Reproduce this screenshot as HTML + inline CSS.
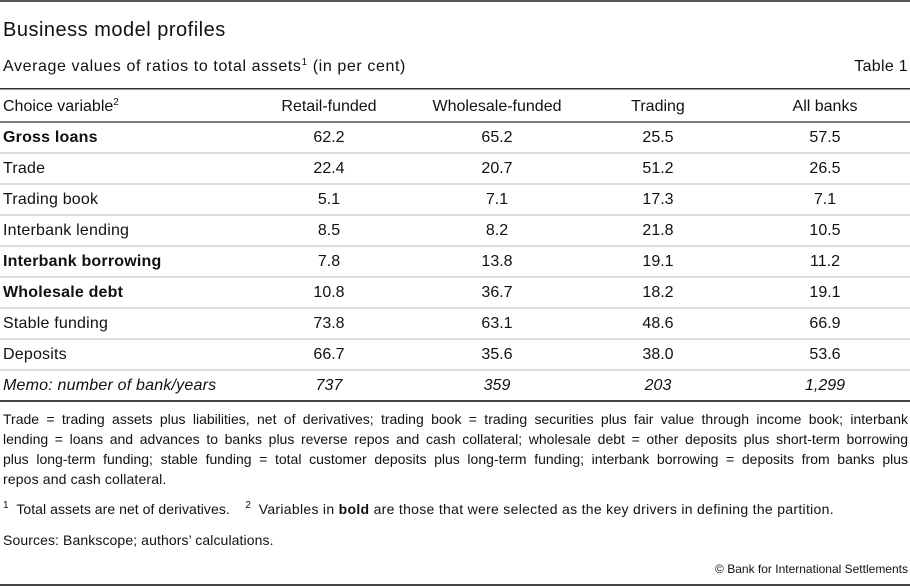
<!DOCTYPE html>
<html>
<head>
<meta charset="utf-8">
<style>
  html, body { margin:0; padding:0; background:#fff; }
  body { width:910px; height:586px; position:relative; overflow:hidden;
         font-family:"Liberation Sans", Arial, sans-serif; color:#111; }
  .abs { position:absolute; white-space:nowrap; }
  .rule { position:absolute; left:0; width:910px; }
  .row { position:absolute; left:0; width:910px; height:20px; line-height:20px; font-size:16px; }
  .row span { position:absolute; top:0; }
  .lab { left:3px; letter-spacing:0.2px; }
  .c1, .c2, .c3, .c4 { width:160px; text-align:center; }
  .c1 { left:249px; } .c2 { left:417px; } .c3 { left:578px; } .c4 { left:745px; }
  .b { font-weight:bold; }
  .i { font-style:italic; }
  sup { font-size:10px; line-height:0; vertical-align:6px; }
  .fn { position:absolute; left:3px; width:905px; font-size:14px; line-height:20px; }
  .fn div.j { text-align:justify; text-align-last:justify; white-space:nowrap; }
</style>
</head>
<body>
  <div class="rule" style="top:0;height:2px;background:#555;"></div>

  <div class="abs" style="left:3px;top:18px;font-size:20px;line-height:24px;letter-spacing:0.5px;">Business model profiles</div>
  <div class="abs" style="left:3px;top:57px;font-size:16px;line-height:20px;letter-spacing:0.6px;">Average values of ratios to total assets<sup>1</sup> (in per cent)</div>
  <div class="abs" style="right:2px;top:57px;font-size:16px;line-height:20px;letter-spacing:0.3px;">Table 1</div>

  <div class="rule" style="top:88px;height:1px;background:#333;"></div>
  <div class="rule" style="top:89px;height:1px;background:#999;"></div>

  <div class="row" style="top:97px;">
    <span class="lab" style="letter-spacing:0;">Choice variable<sup>2</sup></span>
    <span class="c1">Retail-funded</span>
    <span class="c2">Wholesale-funded</span>
    <span class="c3">Trading</span>
    <span class="c4">All banks</span>
  </div>

  <div class="rule" style="top:121px;height:2px;background:#7a7a7a;"></div>

  <div class="row" style="top:128px;"><span class="lab b">Gross loans</span><span class="c1">62.2</span><span class="c2">65.2</span><span class="c3">25.5</span><span class="c4">57.5</span></div>
  <div class="rule" style="top:152px;height:2px;background:#dcdcdc;"></div>
  <div class="row" style="top:159px;"><span class="lab">Trade</span><span class="c1">22.4</span><span class="c2">20.7</span><span class="c3">51.2</span><span class="c4">26.5</span></div>
  <div class="rule" style="top:183px;height:2px;background:#dcdcdc;"></div>
  <div class="row" style="top:190px;"><span class="lab">Trading book</span><span class="c1">5.1</span><span class="c2">7.1</span><span class="c3">17.3</span><span class="c4">7.1</span></div>
  <div class="rule" style="top:214px;height:2px;background:#dcdcdc;"></div>
  <div class="row" style="top:221px;"><span class="lab">Interbank lending</span><span class="c1">8.5</span><span class="c2">8.2</span><span class="c3">21.8</span><span class="c4">10.5</span></div>
  <div class="rule" style="top:245px;height:2px;background:#dcdcdc;"></div>
  <div class="row" style="top:252px;"><span class="lab b">Interbank borrowing</span><span class="c1">7.8</span><span class="c2">13.8</span><span class="c3">19.1</span><span class="c4">11.2</span></div>
  <div class="rule" style="top:276px;height:2px;background:#dcdcdc;"></div>
  <div class="row" style="top:283px;"><span class="lab b">Wholesale debt</span><span class="c1">10.8</span><span class="c2">36.7</span><span class="c3">18.2</span><span class="c4">19.1</span></div>
  <div class="rule" style="top:307px;height:2px;background:#dcdcdc;"></div>
  <div class="row" style="top:314px;"><span class="lab">Stable funding</span><span class="c1">73.8</span><span class="c2">63.1</span><span class="c3">48.6</span><span class="c4">66.9</span></div>
  <div class="rule" style="top:338px;height:2px;background:#dcdcdc;"></div>
  <div class="row" style="top:345px;"><span class="lab">Deposits</span><span class="c1">66.7</span><span class="c2">35.6</span><span class="c3">38.0</span><span class="c4">53.6</span></div>
  <div class="rule" style="top:369px;height:2px;background:#dcdcdc;"></div>
  <div class="row i" style="top:376px;"><span class="lab">Memo: number of bank/years</span><span class="c1">737</span><span class="c2">359</span><span class="c3">203</span><span class="c4">1,299</span></div>

  <div class="rule" style="top:400px;height:2px;background:#444;"></div>

  <div class="fn" style="top:409px;">
    <div class="j">Trade = trading assets plus liabilities, net of derivatives; trading book = trading securities plus fair value through income book; interbank</div>
    <div class="j">lending = loans and advances to banks plus reverse repos and cash collateral; wholesale debt = other deposits plus short-term borrowing</div>
    <div class="j">plus long-term funding; stable funding = total customer deposits plus long-term funding; interbank borrowing = deposits from banks plus</div>
    <div style="letter-spacing:0.15px;">repos and cash collateral.</div>
  </div>

  <div class="fn" style="top:499px;white-space:nowrap;"><sup>1</sup>&nbsp; <span style="letter-spacing:0.05px;">Total assets are net of derivatives.</span> &nbsp;&nbsp;&nbsp;<sup>2</sup>&nbsp; <span style="letter-spacing:0.3px;">Variables in <b>bold</b> are those that were selected as the key drivers in defining the partition.</span></div>

  <div class="fn" style="top:530px;white-space:nowrap;letter-spacing:0.1px;">Sources: Bankscope; authors’ calculations.</div>

  <div class="abs" style="right:2px;top:561px;font-size:12px;line-height:16px;">© Bank for International Settlements</div>

  <div class="rule" style="top:584px;height:2px;background:#444;"></div>
</body>
</html>
